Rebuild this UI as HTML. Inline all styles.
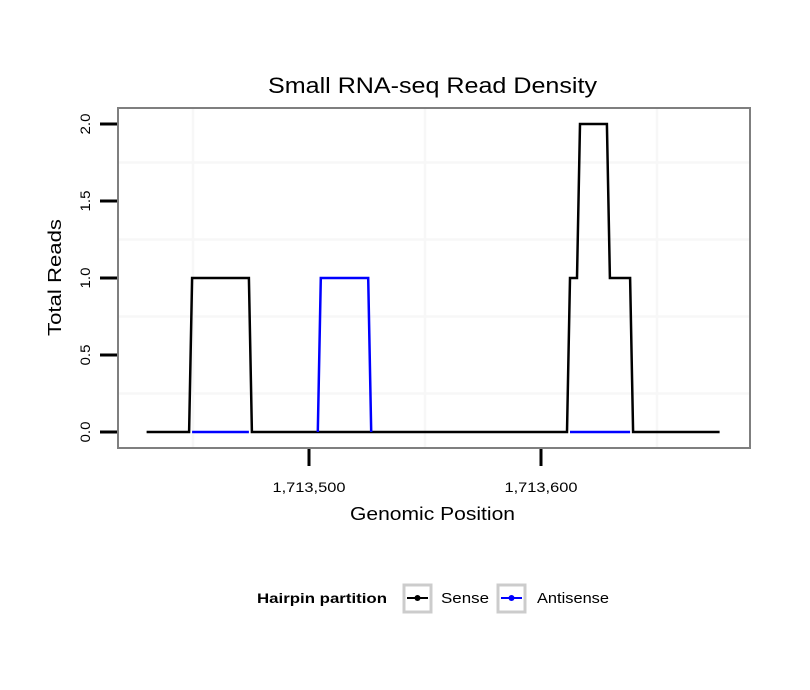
<!DOCTYPE html>
<html><head><meta charset="utf-8"><style>
body{margin:0;background:#fff;}
svg{font-family:"Liberation Sans",sans-serif;display:block;}
</style></head><body>
<svg id="chart" width="810" height="690">
<text x="268" y="93" textLength="329" lengthAdjust="spacingAndGlyphs" font-size="22">Small RNA-seq Read Density</text>
<rect x="118" y="108" width="632" height="340" fill="#fff" stroke="#7f7f7f" stroke-width="2"/>
<g id="grid"></g><g id="axes"></g><g id="series"></g>
<text x="350" y="520" textLength="165" lengthAdjust="spacingAndGlyphs" font-size="18">Genomic Position</text>
<text transform="translate(61,336) rotate(-90)" textLength="117" lengthAdjust="spacingAndGlyphs" font-size="18">Total Reads</text>
<g>
<text x="257" y="603" textLength="130" lengthAdjust="spacingAndGlyphs" font-size="14" font-weight="bold">Hairpin partition</text>
<g>
<rect x="404" y="585" width="27" height="27" fill="#fff" stroke="#cccccc" stroke-width="3"/>
<line x1="407" y1="598" x2="428" y2="598" stroke="#000" stroke-width="2"/><circle cx="417.5" cy="598" r="3" fill="#000"/>
<text x="441" y="603" textLength="48" lengthAdjust="spacingAndGlyphs" font-size="15">Sense</text></g>
<g>
<rect x="498" y="585" width="27" height="27" fill="#fff" stroke="#cccccc" stroke-width="3"/>
<line x1="501" y1="598" x2="522" y2="598" stroke="#0000ff" stroke-width="2"/><circle cx="511.5" cy="598" r="3" fill="#0000ff"/>
<text x="537" y="603" textLength="72" lengthAdjust="spacingAndGlyphs" font-size="15">Antisense</text></g>
</g>
</svg>
<script>
const yTicks=[0,0.5,1,1.5,2];
const yTickLabels=["0.0","0.5","1.0","1.5","2.0"];
const xTicks=[1713500,1713600];
const xTickLabels=["1,713,500","1,713,600"];
const senseX=[1713430,1713448.3,1713449.6,1713474.1,1713475.4,1713611.2,1713612.5,1713615.5,1713616.8,1713628.4,1713629.7,1713638.4,1713639.7,1713677];
const senseY=[0,0,1,1,0,0,1,1,2,2,1,1,0,0];
const antiX=[1713449.6,1713474.1,null,1713503.8,1713505.1,1713525.5,1713526.8,null,1713612.5,1713638.4];
const antiY=[0,0,null,0,1,1,0,null,0,0];
const ns="http://www.w3.org/2000/svg";
const X=v=>309+(v-1713500)*2.32;
const Y=v=>432-v*154;
function mk(tag,attrs,parent){const e=document.createElementNS(ns,tag);for(const k in attrs)e.setAttribute(k,attrs[k]);parent.appendChild(e);return e;}
const grid=document.getElementById('grid'),axes=document.getElementById('axes'),ser=document.getElementById('series');
[0.25,0.75,1.25,1.75].forEach(v=>{const l=mk('line',{x1:119,x2:749,y1:Y(v),y2:Y(v),stroke:'#f7f7f7','stroke-width':2.5},grid);

});
[1713450,1713550,1713650].forEach(v=>{const l=mk('line',{x1:X(v),x2:X(v),y1:109,y2:447,stroke:'#f7f7f7','stroke-width':2.5},grid);

});
yTicks.forEach((v,i)=>{const t=mk('line',{x1:100,x2:117,y1:Y(v),y2:Y(v),stroke:'#000','stroke-width':3},axes);


const tx=mk('text',{transform:`translate(90,${Y(v)}) rotate(-90)`,'text-anchor':'middle','font-size':14,textLength:21,lengthAdjust:'spacingAndGlyphs'},axes);tx.textContent=yTickLabels[i];

});
xTicks.forEach((v,i)=>{const t=mk('line',{x1:X(v),x2:X(v),y1:449,y2:466,stroke:'#000','stroke-width':3},axes);


const tx=mk('text',{x:X(v),y:492,'text-anchor':'middle','font-size':14,textLength:73,lengthAdjust:'spacingAndGlyphs'},axes);tx.textContent=xTickLabels[i];

});
function pathD(xs,ys){let d='',start=true;xs.forEach((x,i)=>{if(x===null){start=true;return;}d+=(start?'M':'L')+X(x).toFixed(1)+','+Y(ys[i]).toFixed(1);start=false;});return d;}
const s=mk('path',{d:pathD(senseX,senseY),fill:'none',stroke:'#000','stroke-width':2.5},ser);


const a=mk('path',{d:pathD(antiX,antiY),fill:'none',stroke:'#0000ff','stroke-width':2.5},ser);


</script>
</body></html>
